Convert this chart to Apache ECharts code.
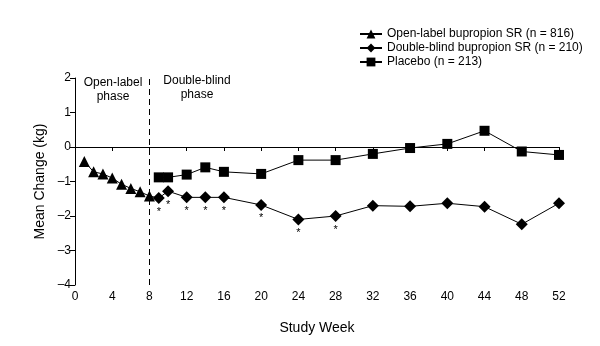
<!DOCTYPE html>
<html><head><meta charset="utf-8">
<script src="https://cdn.jsdelivr.net/npm/echarts@6/dist/echarts.min.js"></script>
<style>html,body{margin:0;padding:0;background:#fff}#c{width:600px;height:346px}</style>
</head><body><div id="c"></div>
<script>
var openWeeks = [1, 2, 3, 4, 5, 6, 7, 8];
var openValues = [-0.42, -0.72, -0.78, -0.9, -1.08, -1.2, -1.3, -1.42];
var dbWeeks = [9, 10, 12, 14, 16, 20, 24, 28, 32, 36, 40, 44, 48, 52];
var dbValues = [-1.48, -1.28, -1.46, -1.46, -1.46, -1.68, -2.1, -2.0, -1.7, -1.72, -1.63, -1.73, -2.24, -1.63];
var dbSignificant = [true, true, true, true, true, true, true, true, false, false, false, false, false, false];
var placeboWeeks = [9, 10, 12, 14, 16, 20, 24, 28, 32, 36, 40, 44, 48, 52];
var placeboValues = [-0.88, -0.88, -0.8, -0.59, -0.72, -0.78, -0.38, -0.38, -0.2, -0.03, 0.09, 0.47, -0.13, -0.23];
var xTicks = [0, 4, 8, 12, 16, 20, 24, 28, 32, 36, 40, 44, 48, 52];
var yTicks = [-4, -3, -2, -1, 0, 1, 2];
var phaseBoundary = 8;
var seriesNames = ['Open-label bupropion SR (n = 816)', 'Double-blind bupropion SR (n = 210)', 'Placebo (n = 213)'];

var FONT = '"Liberation Sans", Arial, sans-serif';
var chart = echarts.init(document.getElementById('c'), null, {renderer: 'canvas'});

var openData = openWeeks.map(function (w, i) { return [w, openValues[i]]; });
var dbData = [{value: [openWeeks[openWeeks.length - 1], openValues[openValues.length - 1]], symbolSize: 0}].concat(
  dbWeeks.map(function (w, i) {
    return {value: [w, dbValues[i]], label: {show: dbSignificant[i]}};
  }));
var plData = placeboWeeks.map(function (w, i) { return [w, placeboValues[i]]; });

var lineStyle = {color: '#000', width: 1};
chart.setOption({
  animation: false,
  backgroundColor: '#fff',
  textStyle: {fontFamily: FONT, color: '#000'},
  grid: {left: 75, right: 41, top: 78, bottom: 61},
  legend: {
    orient: 'vertical', left: 354, top: 23, itemGap: 2,
    itemWidth: 22, itemHeight: 11,
    textStyle: {fontFamily: FONT, fontSize: 12, color: '#000'},
    data: seriesNames
  },
  xAxis: {
    type: 'value', min: xTicks[0], max: xTicks[xTicks.length - 1], interval: 4,
    name: 'Study Week', nameLocation: 'middle', nameGap: 36,
    nameTextStyle: {fontFamily: FONT, fontSize: 14, color: '#000'},
    axisLine: {lineStyle: {color: '#000', width: 1}},
    axisTick: {lineStyle: {color: '#000'}, length: 4},
    axisLabel: {fontFamily: FONT, fontSize: 12, color: '#000', margin: 6},
    splitLine: {show: false}
  },
  yAxis: {
    type: 'value', min: yTicks[0], max: yTicks[yTicks.length - 1], interval: 1,
    name: 'Mean Change (kg)', nameLocation: 'middle', nameGap: 28, nameRotate: 90,
    nameTextStyle: {fontFamily: FONT, fontSize: 14, color: '#000'},
    axisLine: {show: true, lineStyle: {color: '#000', width: 1}},
    axisTick: {show: true, lineStyle: {color: '#000'}, length: 5},
    axisLabel: {fontFamily: FONT, fontSize: 12, color: '#000', margin: 4,
      formatter: function (v) { return v < 0 ? '\u2013' + Math.abs(v) : String(v); }},
    splitLine: {show: false}
  },
  series: [
    {
      name: seriesNames[0], type: 'line', data: openData,
      symbol: 'triangle', symbolSize: 11, itemStyle: {color: '#000'}, lineStyle: lineStyle,
      markLine: {
        silent: true, symbol: 'none', label: {show: false},
        lineStyle: {color: '#000', type: [6, 4], width: 1},
        data: [{xAxis: phaseBoundary}]
      }
    },
    {
      name: seriesNames[1], type: 'line', data: dbData,
      symbol: 'diamond', symbolSize: 12, itemStyle: {color: '#000'}, lineStyle: lineStyle,
      label: {show: false, formatter: '*', position: 'bottom', distance: 2, fontSize: 11, color: '#000', fontFamily: FONT}
    },
    {
      name: seriesNames[2], type: 'line', data: plData,
      symbol: 'rect', symbolSize: 10, itemStyle: {color: '#000'}, lineStyle: lineStyle
    }
  ],
  graphic: [
    {type: 'text', x: 113, y: 76, style: {text: 'Open-label\nphase', textAlign: 'center', font: '12px ' + FONT, fill: '#000', lineHeight: 14}},
    {type: 'text', x: 197, y: 74, style: {text: 'Double-blind\nphase', textAlign: 'center', font: '12px ' + FONT, fill: '#000', lineHeight: 14}}
  ]
});
</script></body></html>
